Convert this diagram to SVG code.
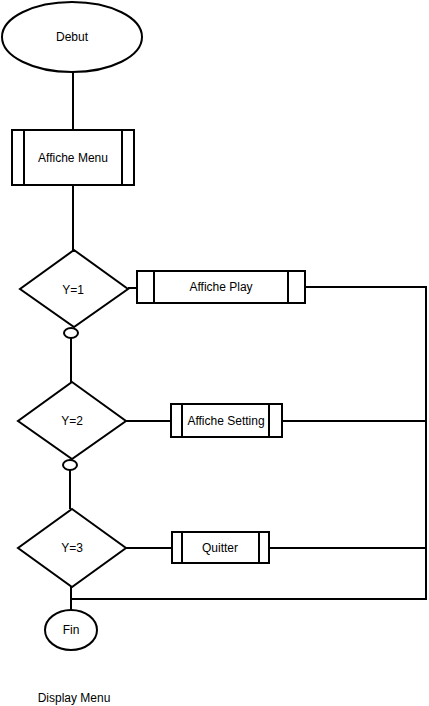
<svg xmlns="http://www.w3.org/2000/svg" width="429" height="706" viewBox="0 0 429 706">
<style>
.s{fill:#fff;stroke:#000;stroke-width:2}
.l{fill:none;stroke:#000;stroke-width:2}
text{font-family:"Liberation Sans",Arial,sans-serif;font-size:12px;fill:#000;text-anchor:middle}
</style>
<rect width="429" height="706" fill="#fff"/>
<g id="connectors">
<line class="l" x1="73" y1="72" x2="73" y2="130"/>
<line class="l" x1="73" y1="185" x2="73" y2="250"/>
<line class="l" x1="128" y1="288" x2="137" y2="288"/>
<line class="l" x1="305" y1="287" x2="426" y2="287"/>
<line class="l" x1="426" y1="286" x2="426" y2="600"/>
<line class="l" x1="71" y1="338" x2="71" y2="382"/>
<line class="l" x1="126" y1="421" x2="171" y2="421"/>
<line class="l" x1="282" y1="421" x2="426" y2="421"/>
<line class="l" x1="70" y1="470" x2="70" y2="509"/>
<line class="l" x1="126" y1="548" x2="172" y2="548"/>
<line class="l" x1="269" y1="548" x2="426" y2="548"/>
<line class="l" x1="71" y1="587" x2="71" y2="610"/>
<line class="l" x1="71" y1="599" x2="427" y2="599"/>
</g>
<g id="debut">
<ellipse class="s" cx="72" cy="37" rx="70" ry="35"/>
<text x="72" y="41">Debut</text>
</g>
<g id="affiche-menu">
<rect class="s" x="12" y="130" width="122" height="55"/>
<line class="l" x1="24" y1="130" x2="24" y2="185"/>
<line class="l" x1="122" y1="130" x2="122" y2="185"/>
<text x="73" y="162">Affiche Menu</text>
</g>
<g id="y1">
<polygon class="s" points="74,250 128,289 74,327 20,289"/>
<text x="73" y="294">Y=1</text>
</g>
<g id="c1">
<ellipse class="s" cx="71" cy="333" rx="7" ry="5"/>
</g>
<g id="affiche-play">
<rect class="s" x="137" y="271" width="168" height="32"/>
<line class="l" x1="154" y1="271" x2="154" y2="303"/>
<line class="l" x1="288" y1="271" x2="288" y2="303"/>
<text x="221" y="291">Affiche Play</text>
</g>
<g id="y2">
<polygon class="s" points="72,382 126,421 72,459 18,421"/>
<text x="72" y="425">Y=2</text>
</g>
<g id="c2">
<ellipse class="s" cx="70" cy="465" rx="7" ry="5"/>
</g>
<g id="affiche-setting">
<rect class="s" x="171" y="404" width="111" height="33"/>
<line class="l" x1="182" y1="404" x2="182" y2="437"/>
<line class="l" x1="269" y1="404" x2="269" y2="437"/>
<text x="226" y="425">Affiche Setting</text>
</g>
<g id="y3">
<polygon class="s" points="72,509 126,548 72,587 18,548"/>
<text x="72" y="552">Y=3</text>
</g>
<g id="quitter">
<rect class="s" x="172" y="532" width="97" height="31"/>
<line class="l" x1="182" y1="532" x2="182" y2="563"/>
<line class="l" x1="259" y1="532" x2="259" y2="563"/>
<text x="220" y="552">Quitter</text>
</g>
<g id="fin">
<ellipse class="s" cx="71" cy="630" rx="26" ry="20"/>
<text x="71" y="634">Fin</text>
</g>
<text x="74" y="702">Display Menu</text>
</svg>
